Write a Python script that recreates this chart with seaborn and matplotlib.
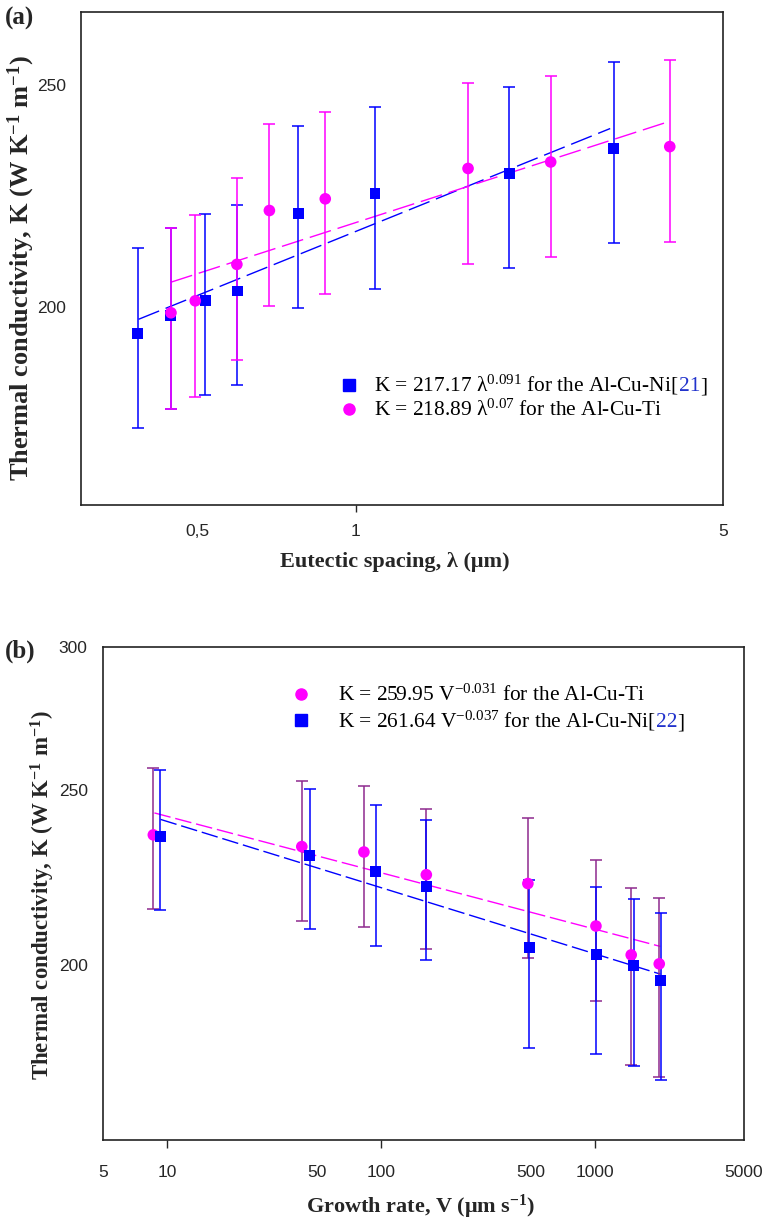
import numpy as np
import matplotlib
matplotlib.use("Agg")
import matplotlib.pyplot as plt
from matplotlib.lines import Line2D
from matplotlib.offsetbox import TextArea, DrawingArea, HPacker, VPacker, AnchoredOffsetbox
import seaborn as sns

# ---- panel (a): K vs eutectic spacing ----
lam_ni = [0.385, 0.445, 0.517, 0.595, 0.778, 1.088, 1.96, 3.10]
k_ni = [194.8, 198.4, 201.4, 203.3, 219.7, 224.1, 228.8, 234.5]
k_ni_hi = [212.3, 216.5, 219.6, 221.6, 239.8, 244.5, 249.4, 255.9]
k_ni_lo = [177.1, 180.5, 183.1, 184.9, 199.8, 203.7, 208.0, 213.3]

lam_ti = [0.445, 0.495, 0.594, 0.685, 0.875, 1.636, 2.35, 3.96]
k_ti = [198.9, 201.3, 208.8, 220.4, 223.0, 229.9, 231.4, 235.0]
k_ti_hi = [216.5, 219.3, 227.6, 240.3, 243.3, 250.5, 252.3, 256.4]
k_ti_lo = [180.5, 182.8, 189.6, 200.3, 202.7, 208.8, 210.3, 213.6]

fit_lam_ni = [0.386, 3.05]
fit_k_ni = [197.6, 239.3]
fit_lam_ti = [0.445, 3.95]
fit_k_ti = [205.1, 241.0]

# ---- panel (b): K vs growth rate ----
v_ti = [8.6, 42.6, 83.2, 163, 487, 1014, 1483, 2006]
kv_ti = [236.1, 232.6, 231.0, 224.4, 221.9, 210.2, 202.6, 200.3]
kv_ti_hi = [257.0, 252.9, 251.2, 244.1, 241.3, 228.7, 220.6, 217.9]
kv_ti_lo = [214.8, 211.6, 210.0, 204.1, 201.8, 191.1, 176.0, 173.5]

v_ni = [9.27, 46.3, 94.3, 163, 494, 1020, 1525, 2042]
kv_ni = [235.6, 229.9, 225.4, 221.1, 204.6, 202.8, 199.8, 196.2]
kv_ni_hi = [256.4, 250.2, 245.4, 240.7, 223.0, 221.0, 217.7, 213.7]
kv_ni_lo = [214.5, 209.3, 205.0, 201.2, 180.0, 178.5, 175.8, 172.7]

fit_v_ti = [8.7, 2030]
fit_kv_ti = [242.8, 204.8]
fit_v_ni = [9.3, 2030]
fit_kv_ni = [240.8, 197.7]

BLUE = '#0000ff'
MAGENTA = '#ff00ff'
PURPLE = '#8e2a8e'
REFBLUE = '#2233cc'

sns.set_style("white")
plt.rcParams['font.family'] = ['Liberation Serif', 'DejaVu Serif']
plt.rcParams['mathtext.fontset'] = 'custom'
plt.rcParams['mathtext.rm'] = 'Liberation Serif'
plt.rcParams['mathtext.it'] = 'Liberation Serif:italic'
plt.rcParams['mathtext.bf'] = 'Liberation Serif:bold'


def draw_series(ax, x, y, lo, hi, marker, color, ecolor, size):
    yerr = [np.subtract(y, lo), np.subtract(hi, y)]
    ax.errorbar(x, y, yerr=yerr, fmt='none', ecolor=ecolor, elinewidth=1.1,
                capsize=4.5, capthick=1.1, zorder=2)
    sns.scatterplot(x=x, y=y, marker=marker, color=color, s=size,
                    edgecolor='none', ax=ax, zorder=3)


def legend_box(ax, rows, anchor, gap, fs=15.4, sep=2):
    packed = []
    for marker, color, parts in rows:
        da = DrawingArea(9, 9, 0, 0)
        da.add_artist(Line2D([4.5], [4.8], marker=marker, color=color,
                             markersize=8, linestyle='none'))
        texts = [TextArea(t, textprops=dict(color=c, fontsize=fs,
                                            family='Liberation Serif'))
                 for t, c in parts]
        line = HPacker(children=texts, align='baseline', pad=0, sep=0)
        packed.append(HPacker(children=[da, line], align='baseline', pad=0, sep=gap))
    box = VPacker(children=packed, align='left', pad=0, sep=sep)
    ab = AnchoredOffsetbox(loc='center left', child=box, pad=0, borderpad=0,
                           frameon=False, bbox_to_anchor=anchor,
                           bbox_transform=ax.transAxes)
    ax.add_artist(ab)


def style_axes(ax):
    ax.set_xscale('log')
    ax.set_yscale('log')
    for sp in ax.spines.values():
        sp.set_visible(True)
        sp.set_color('#222222')
        sp.set_linewidth(1.2)
    ax.yaxis.set_minor_locator(plt.NullLocator())
    ax.tick_params(axis='y', which='both', left=False, length=0, pad=11,
                   labelsize=12.5, labelfontfamily='Liberation Sans')
    ax.tick_params(axis='x', which='both', labelsize=12.5,
                   labelfontfamily='Liberation Sans')
    ax.set_xlabel('')
    ax.set_ylabel('')


fig = plt.figure(figsize=(7.67, 12.21), dpi=100)
ax_a = fig.add_axes([0.1056, 0.5864, 0.837, 0.4038])
ax_b = fig.add_axes([0.1343, 0.0663, 0.8357, 0.4038])

# panel (a)
draw_series(ax_a, lam_ni, k_ni, k_ni_lo, k_ni_hi, 's', BLUE, BLUE, 62)
draw_series(ax_a, lam_ti, k_ti, k_ti_lo, k_ti_hi, 'o', MAGENTA, MAGENTA, 70)
ax_a.plot(fit_lam_ni, fit_k_ni, color=BLUE, lw=1, dashes=(16, 5), zorder=1)
ax_a.plot(fit_lam_ti, fit_k_ti, color=MAGENTA, lw=1, dashes=(16, 5), zorder=1)
style_axes(ax_a)
ax_a.set_xlim(0.3, 5)
ax_a.set_ylim(164, 269)
ax_a.set_xticks([1], labels=['1'])
ax_a.set_xticks([0.5, 5], labels=['0,5', '5'], minor=True)
ax_a.set_yticks([200, 250], labels=['200', '250'])
ax_a.tick_params(axis='x', which='major', bottom=True, direction='out',
                 length=5, width=1, pad=9)
ax_a.tick_params(axis='x', which='minor', bottom=True, length=0, pad=14)
ax_a.set_xlabel('Eutectic spacing, λ (μm)', fontsize=16, fontweight='bold')
ax_a.xaxis.set_label_coords(0.489, -0.1156)
ax_a.xaxis.label.set_va('center')
ax_a.set_ylabel(r'Thermal conductivity, K (W K$^{\mathbf{-1}}$ m$^{\mathbf{-1}}$)',
                fontsize=19, fontweight='bold')
ax_a.yaxis.set_label_coords(-0.0935, 0.481)
ax_a.yaxis.label.set_va('center')
legend_box(ax_a,
           [('s', BLUE, [('K = 217.17 λ$^{0.091}$ for the Al-Cu-Ni[', 'black'),
                         ('21', REFBLUE), (']', 'black')]),
            ('o', MAGENTA, [('K = 218.89 λ$^{0.07}$ for the Al-Cu-Ti', 'black')])],
           anchor=(0.408, 0.219), gap=13.7)

# panel (b)
draw_series(ax_b, v_ti, kv_ti, kv_ti_lo, kv_ti_hi, 'o', MAGENTA, PURPLE, 70)
draw_series(ax_b, v_ni, kv_ni, kv_ni_lo, kv_ni_hi, 's', BLUE, BLUE, 62)
ax_b.plot(fit_v_ti, fit_kv_ti, color=MAGENTA, lw=1, dashes=(12, 3.5), zorder=1)
ax_b.plot(fit_v_ni, fit_kv_ni, color=BLUE, lw=1, dashes=(12, 3.5), zorder=1)
style_axes(ax_b)
ax_b.set_xlim(5, 5000)
ax_b.set_ylim(160, 300)
ax_b.set_xticks([10, 100, 1000], labels=['10', '100', '1000'])
ax_b.set_xticks([5, 50, 500, 5000], labels=['5', '50', '500', '5000'], minor=True)
ax_b.set_yticks([200, 250, 300], labels=['200', '250', '300'])
ax_b.tick_params(axis='x', which='major', bottom=True, direction='out',
                 length=6, width=1, pad=12)
ax_b.tick_params(axis='x', which='minor', bottom=True, length=0, pad=18)
ax_b.set_xlabel(r'Growth rate, V (μm s$^{\mathbf{-1}}$)', fontsize=16, fontweight='bold')
ax_b.xaxis.set_label_coords(0.496, -0.1353)
ax_b.xaxis.label.set_va('center')
ax_b.set_ylabel(r'Thermal conductivity, K (W K$^{\mathbf{-1}}$ m$^{\mathbf{-1}}$)',
                fontsize=16.5, fontweight='bold')
ax_b.yaxis.set_label_coords(-0.0936, 0.497)
ax_b.yaxis.label.set_va('center')
legend_box(ax_b,
           [('o', MAGENTA, [('K = 259.95 V$^{-0.031}$ for the Al-Cu-Ti', 'black')]),
            ('s', BLUE, [('K = 261.64 V$^{-0.037}$ for the Al-Cu-Ni[', 'black'),
                         ('22', REFBLUE), (']', 'black')])],
           anchor=(0.2995, 0.875), gap=22)

fig.text(0.006, 1 - 18 / 1221, '(a)', fontsize=18, fontweight='bold', va='center')
fig.text(0.006, 1 - 651 / 1221, '(b)', fontsize=18, fontweight='bold', va='center')

fig.savefig('out.png', dpi=100)
